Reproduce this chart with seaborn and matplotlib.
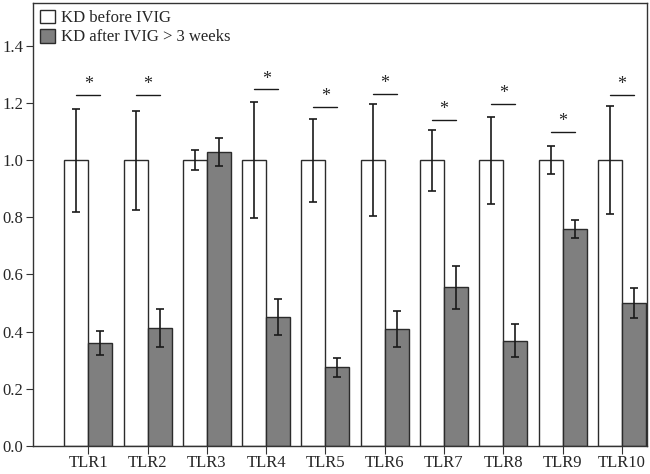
import numpy as np
import pandas as pd
import matplotlib
matplotlib.use("Agg")
import matplotlib.pyplot as plt
import seaborn as sns

# --- data ---
tlrs = ["TLR1", "TLR2", "TLR3", "TLR4", "TLR5", "TLR6", "TLR7", "TLR8", "TLR9", "TLR10"]
groups = ["KD before IVIG", "KD after IVIG > 3 weeks"]
before_mean = [1.0, 1.0, 1.0, 1.0, 1.0, 1.0, 1.0, 1.0, 1.0, 1.0]
before_err = [0.18, 0.173, 0.036, 0.204, 0.145, 0.195, 0.107, 0.152, 0.05, 0.189]
after_mean = [0.362, 0.413, 1.029, 0.452, 0.275, 0.41, 0.556, 0.369, 0.759, 0.50]
after_err = [0.042, 0.067, 0.048, 0.062, 0.032, 0.064, 0.075, 0.058, 0.031, 0.051]
# height of the significance bracket (None = not significant)
sig_y = [1.228, 1.228, None, 1.247, 1.185, 1.232, 1.141, 1.196, 1.099, 1.229]

df = pd.DataFrame({
    "tlr": tlrs * 2,
    "group": [groups[0]] * len(tlrs) + [groups[1]] * len(tlrs),
    "value": before_mean + after_mean,
})

sns.set_style("ticks")
plt.rcParams["font.family"] = ["Liberation Serif", "DejaVu Serif"]

fig = plt.figure(figsize=(6.5, 4.74), dpi=100)
ax = fig.add_axes([0.051, 0.059, 0.944, 0.935])

sns.barplot(data=df, x="tlr", y="value", hue="group", order=tlrs, hue_order=groups,
            palette=["white", "#7f7f7f"], errorbar=None, width=0.81, gap=0,
            edgecolor="#2b2b2b", linewidth=1.0, ax=ax)

# error bars
for cont, err in zip(ax.containers, [before_err, after_err]):
    xs = [b.get_x() + b.get_width() / 2 for b in cont]
    hs = [b.get_height() for b in cont]
    ax.errorbar(xs, hs, yerr=err, fmt="none", ecolor="#1a1a1a",
                elinewidth=1.2, capsize=3, capthick=1.2, zorder=5)

# significance marks
white_bars = list(ax.containers[0])
grey_bars = list(ax.containers[1])
for i, s in enumerate(sig_y):
    if s is None:
        continue
    x0 = white_bars[i].get_x() + white_bars[i].get_width() / 2
    x1 = grey_bars[i].get_x() + grey_bars[i].get_width() / 2
    ax.plot([x0, x1], [s, s], color="#1a1a1a", lw=1.0)
    ax.text((x0 + x1) / 2, s + 0.006, "*", ha="center", va="bottom", fontsize=13)

ax.set_xlim(-0.93, 9.42)
ax.set_ylim(0, 1.55)
ax.set_yticks(np.arange(0, 1.41, 0.2))
ax.set_yticklabels([f"{v:.1f}" for v in np.arange(0, 1.41, 0.2)])
ax.set_xlabel("")
ax.set_ylabel("")
ax.tick_params(axis="both", labelsize=12, direction="out", length=5, color="#333333", pad=2)
ax.tick_params(axis="x", length=6, pad=0.5)
for sp in ax.spines.values():
    sp.set_visible(True)
    sp.set_color("#333333")
    sp.set_linewidth(1.0)

ax.legend(loc="upper left", frameon=False, fontsize=12, handlelength=0.9, handleheight=0.9,
          handletextpad=0.4, labelspacing=0.15, borderaxespad=0.2, borderpad=0.2)

fig.savefig("out.png", dpi=100)
